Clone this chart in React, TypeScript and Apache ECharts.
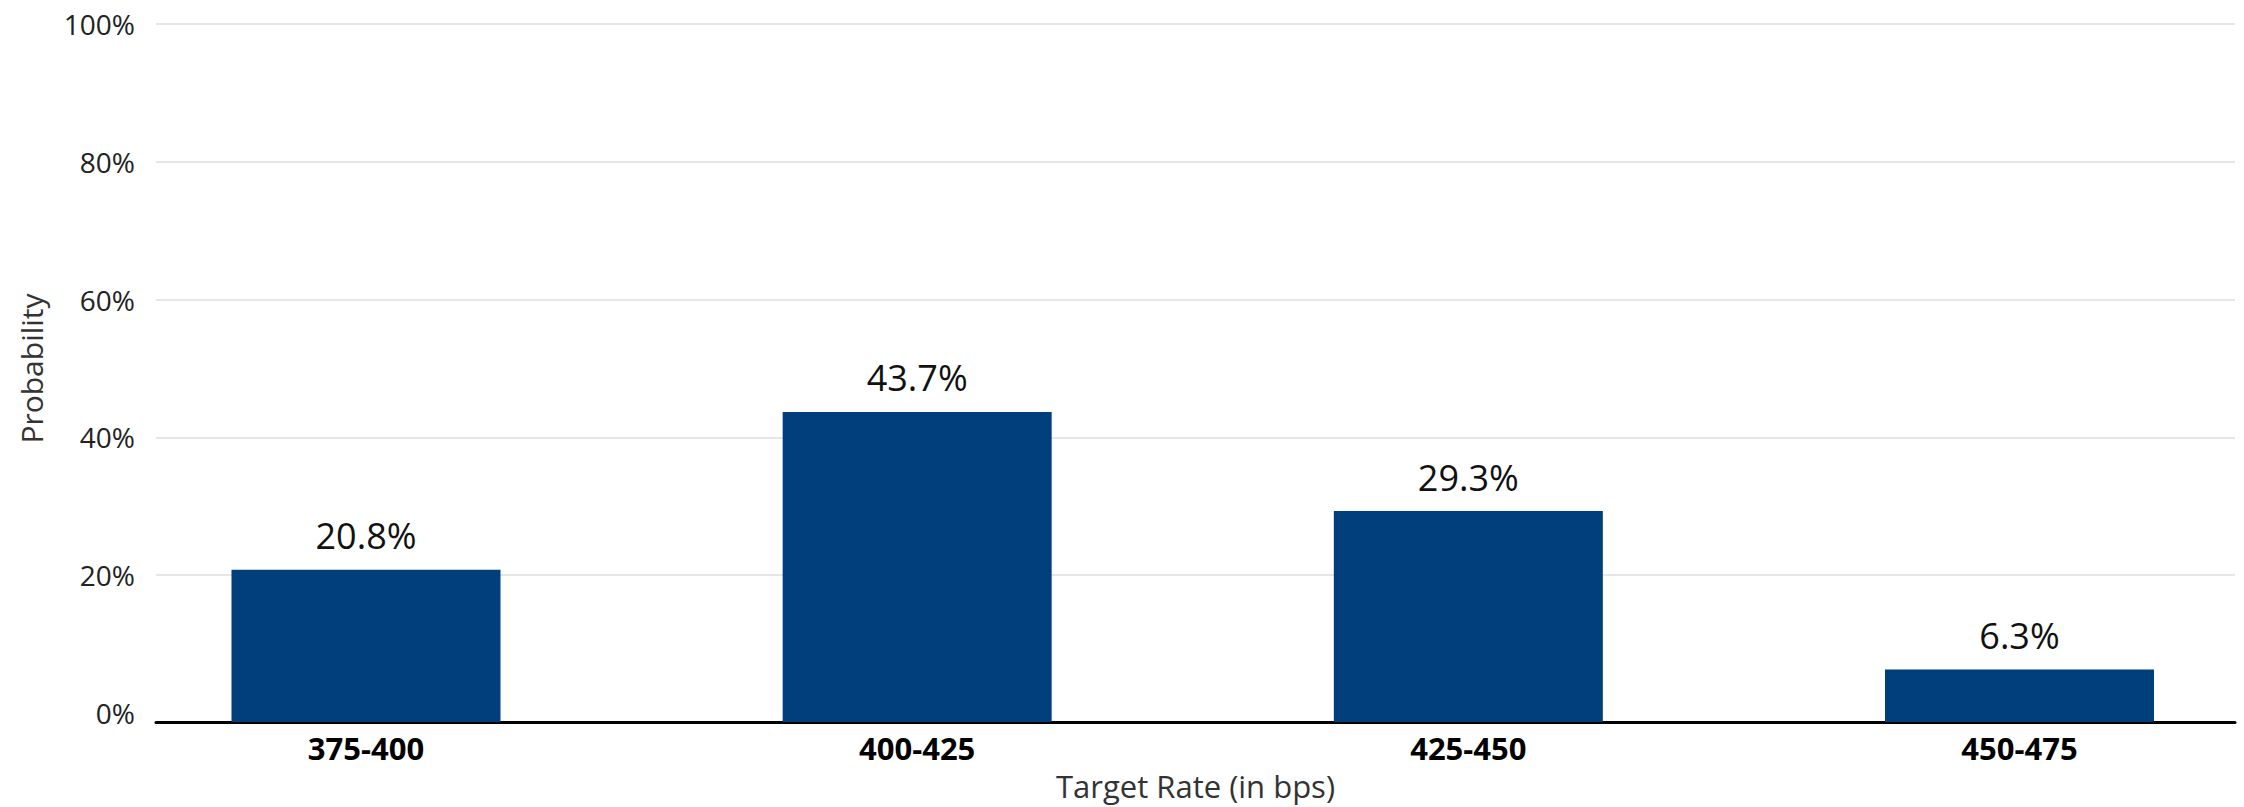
import React, { useEffect, useRef } from "react";
import * as echarts from "echarts";

// Target-rate buckets and their probabilities (%)
const categories = ["375-400", "400-425", "425-450", "450-475"];
const probabilities = [20.8, 43.7, 29.3, 6.3];

const yMin = 0;
const yMax = 100;
const yStep = 20;

const FONT = "'Open Sans', 'Noto Sans', sans-serif";
const BAR_COLOR = "#003f7c";

export default function App() {
  const ref = useRef<HTMLDivElement>(null);

  useEffect(() => {
    if (!ref.current) return;
    const chart = echarts.init(ref.current, undefined, { renderer: "svg" });

    const barData = probabilities.map((v, i) => [i, v]);

    chart.setOption({
      animation: false,
      backgroundColor: "#ffffff",
      textStyle: { fontFamily: FONT },
      grid: { left: 156, right: 9, top: 24, bottom: 94, containLabel: false },
      xAxis: {
        type: "value",
        min: -0.381,
        max: 3.391,
        offset: 9,
        name: "Target Rate (in bps)",
        nameLocation: "middle",
        nameGap: 48,
        nameTextStyle: { fontFamily: FONT, fontSize: 31, color: "#333333" },
        axisLine: { show: true, onZero: false, lineStyle: { color: "#000000", width: 3 } },
        axisTick: { show: false },
        splitLine: { show: false },
        axisLabel: {
          customValues: categories.map((_, i) => i),
          formatter: (v: number) => categories[Math.round(v)] ?? "",
          fontFamily: FONT,
          fontSize: 31,
          fontWeight: "bold",
          color: "#000000",
          margin: 10,
        },
      },
      yAxis: {
        type: "value",
        min: yMin,
        max: yMax,
        interval: yStep,
        startValue: -1.3,
        name: "Probability",
        nameLocation: "middle",
        nameRotate: 90,
        nameGap: 110,
        nameTextStyle: { fontFamily: FONT, fontSize: 30, color: "#333333" },
        axisLine: { show: false },
        axisTick: { show: false },
        axisLabel: {
          formatter: "{value}%",
          fontFamily: FONT,
          fontSize: 28,
          color: "#222222",
          margin: 21,
        },
        splitLine: {
          show: true,
          showMinLine: false,
          lineStyle: { color: "#e6e6e6", width: 2 },
        },
      },
      series: [
        {
          type: "bar",
          data: barData,
          barWidth: 269,
          clip: false,
          itemStyle: { color: BAR_COLOR },
          label: {
            show: true,
            position: "top",
            distance: 16,
            formatter: (p: any) => `${p.value[1].toFixed(1)}%`,
            fontFamily: FONT,
            fontSize: 36,
            color: "#111111",
          },
        },
      ],
    });

    return () => chart.dispose();
  }, []);

  return (
    <div
      ref={ref}
      style={{ position: "fixed", left: 0, top: 0, width: 2244, height: 807 }}
    />
  );
}
